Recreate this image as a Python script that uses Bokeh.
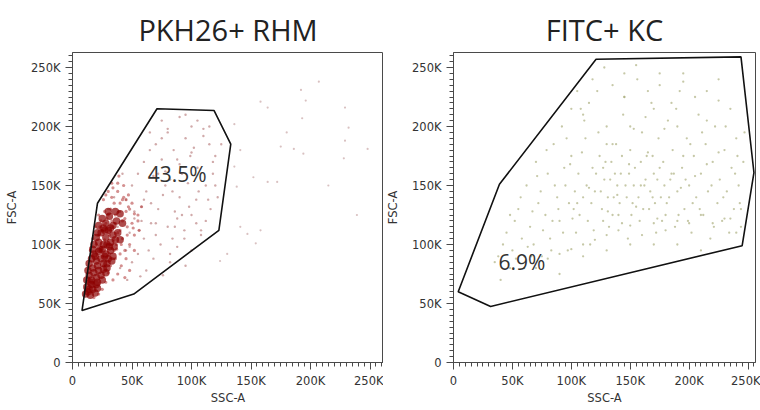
from bokeh.plotting import figure
from bokeh.layouts import row
from bokeh.models import FixedTicker, Range1d, Label
from bokeh.embed import file_html
from bokeh.resources import INLINE

# ---------------- data (values in thousands) ----------------
titles = ["PKH26+ RHM", "FITC+ KC"]
axis_titles = ["SSC-A", "FSC-A"]
gate_pct = ["43.5%", "6.9%"]
tick_vals = [0, 50, 100, 150, 200, 250]
tick_labels = ["0", "50K", "100K", "150K", "200K", "250K"]
minor_vals = list(range(0, 270, 5))

# left gate polygon (SSC-A, FSC-A)
gate1_x = [8, 21, 71, 119, 133, 123, 51.5]
gate1_y = [44, 135, 215, 213.5, 185, 112, 58]
label1_xy = (88, 160)

# right gate polygon
gate2_x = [4, 31.5, 245, 255, 244, 121, 39]
gate2_y = [60, 47.5, 99, 161, 259, 257, 151]
label2_xy = (58, 85)

# left panel: dense core events
core_x = [11,13,15,17,19,21,12,16,20,14,
          12,14,16,18,20,22,24,26,28,13,17,21,25,29,15,
          14,16,18,20,22,24,26,28,30,32,34,17,21,25,29,33,19,27,
          18,20,22,24,26,28,30,32,34,36,38,23,27,31,35,40,21,29,
          22,25,28,31,34,37,40,26,32,36,30,42]
core_y = [58,60,57,62,59,63,64,66,66,62,
          70,74,70,76,72,78,74,79,76,78,80,68,70,80,68,
          84,88,92,86,94,88,84,92,88,95,90,96,82,96,84,86,90,90,
          100,106,102,110,100,106,112,102,108,104,110,96,112,98,98,104,110,100,
          116,122,118,124,116,120,126,114,114,128,128,118]

# left panel: medium-density events
mid_x = [20,22,25,28,30,32,35,27,24,33,38,40,36,42,45,38,42,46,50,48,44,40,36,32,30,34,38,28,25,22,18,26,29,31,34,37,35,41,45,52,55,50,47,43,30,26,22,19,17,15,39,33,52,56,48,44,
         24,27,30,33,36,39,42,21,26,31,35,40,44,48,28,34,38,43,47,52,23,29,37,41,46,51,55,58,32,45]
mid_y = [100,108,112,118,125,130,135,128,120,140,145,135,125,120,128,110,105,115,118,100,95,92,88,82,76,70,75,68,62,58,55,90,100,108,115,100,95,82,88,108,125,135,142,150,145,138,125,115,105,95,158,152,95,112,78,72,
         96,104,110,120,118,128,138,90,82,92,104,112,122,130,142,148,152,140,132,126,115,122,96,100,108,114,120,132,112,138]

# left panel: sparse events inside the gate
sparse_x = [75,90,105,115,80,95,110,125,70,85,100,120,60,75,90,105,118,55,68,82,97,112,122,50,62,76,90,104,116,45,58,72,86,100,112,40,52,66,80,94,108,48,60,74,88,100,55,68,82,95,62,76,45,38,35,42,30,65,100,115,78,92,58,70,84,50,40,46,57,
            65,80,95,110,72,88,102,118,60,78,92,106,52,66,84,98,56,70,88,104,64,94,108,48,82,114,120,75,99,86]
sparse_y = [205,208,205,200,195,190,192,185,185,180,178,175,170,172,168,165,160,160,158,155,152,150,140,150,145,142,140,138,130,138,132,130,128,125,120,128,122,118,115,112,108,110,105,100,98,95,92,88,85,82,78,74,95,115,140,160,130,195,200,185,162,125,120,108,105,85,80,70,73,
            180,198,210,198,160,172,182,170,138,150,160,145,128,135,145,132,112,118,122,118,95,105,112,98,92,138,150,190,175,115]

# left panel: events outside the gate
out_x = [158,164,192,196,207,193,229,232,229,228,248,239,175,186,194,152,164,172,147,154,141,158,136,138,136,141,124,130,215,180]
out_y = [221,216,231,222,238,207,216,199,188,173,181,125,183,181,177,157,153,153,109,101,115,112,166,149,202,180,86,92,150,195]

# right panel events
kc_x = [40,45,50,55,60,62,65,68,70,72,75,78,80,82,85,88,90,92,95,97,100,102,104,106,108,110,112,114,116,118,120,122,124,126,128,130,132,134,136,138,140,142,144,146,148,150,152,154,156,158,160,162,164,166,168,170,172,174,176,178,180,182,184,186,188,190,192,194,196,198,200,202,204,206,208,210,212,214,216,218,220,222,224,226,228,230,232,234,236,238,240,242,244,246,235,225,215,195,175,145,58,66,74,84,94,98,103,107,113,117,121,125,127,129,131,133,135,137,139,141,143,147,149,151,153,157,159,161,163,167,169,171,173,177,179,183,187,191,197,203,38,48,52,90,110,130,150,170,190,210,
        35,42,48,53,57,63,67,71,76,79,83,86,89,93,96,99,101,105,109,111,115,119,123,127,131,135,139,143,145,149,153,155,159,163,165,169,173,175,179,181,185,189,193,195,199,201,205,209,211,215,219,221,225,229,231,235,239,241,243,247,
        60,70,80,90,100,110,120,130,140,150,160,170,180,190,200,210,220,230,240,244,
        105,100,118,115,128,135,145,155,165,175,185,195,205,215,225,110,130,150,170,190]
kc_y = [70,110,95,130,80,150,115,100,170,135,90,125,160,105,185,140,120,200,150,95,175,130,110,160,215,140,190,120,100,165,145,230,175,130,155,200,115,170,140,185,125,160,210,150,105,180,135,165,240,120,195,150,175,130,220,160,110,190,140,170,125,205,155,180,115,145,230,165,130,190,150,110,175,140,210,160,125,185,145,105,170,200,135,155,120,180,145,110,165,130,190,150,115,170,215,240,230,245,235,245,105,90,145,120,165,135,145,125,150,135,160,145,120,170,140,155,125,160,150,135,175,140,160,125,150,140,170,130,155,145,175,135,155,120,150,140,160,125,155,135,90,80,120,75,90,95,100,100,100,95,
        85,100,125,88,140,98,128,158,112,180,95,150,130,110,190,168,122,135,178,205,148,112,195,165,128,185,142,118,225,168,198,132,150,208,178,140,122,165,198,135,160,215,148,175,120,185,158,130,195,168,150,115,178,140,200,122,160,175,135,195,
        90,80,88,92,96,100,104,108,112,116,108,118,112,120,118,125,118,122,110,130,
        230,215,240,220,250,235,225,252,230,245,220,238,225,205,222,210,185,200,215,200]

# ---------------- styling helpers ----------------
AX = "#4a4a4a"
TXT = "#333333"
FIG_H = 410
TOP, BOTTOM = 52, 48
FRAME_H = FIG_H - TOP - BOTTOM
PX_PER_K_Y = 59.0 / 50


def style(p):
    p.xaxis.ticker = FixedTicker(ticks=tick_vals, minor_ticks=minor_vals)
    p.yaxis.ticker = FixedTicker(ticks=tick_vals, minor_ticks=minor_vals)
    for ax in (p.xaxis[0], p.yaxis[0]):
        ax.major_label_overrides = {v: s for v, s in zip(tick_vals, tick_labels)}
        ax.axis_line_color = AX
        ax.major_tick_line_color = AX
        ax.minor_tick_line_color = AX
        ax.major_tick_out = 7
        ax.major_tick_in = 0
        ax.minor_tick_out = 4
        ax.minor_tick_in = 0
        ax.major_label_text_font = "DejaVu Sans"
        ax.major_label_text_font_size = "11.5px"
        ax.major_label_text_color = TXT
        ax.axis_label_text_font = "DejaVu Sans"
        ax.axis_label_text_font_size = "11.5px"
        ax.axis_label_text_font_style = "normal"
        ax.axis_label_text_color = TXT
    p.xaxis.axis_label = axis_titles[0]
    p.yaxis.axis_label = axis_titles[1]
    p.xaxis.major_label_standoff = 4
    p.xaxis.axis_label_standoff = 0
    p.yaxis.major_label_standoff = 5
    p.yaxis.axis_label_standoff = 9
    p.xgrid.visible = False
    p.ygrid.visible = False
    p.outline_line_color = AX
    p.outline_line_width = 1
    p.title.text_font = "Open Sans"
    p.title.text_font_size = "29px"
    p.title.text_font_style = "normal"
    p.title.text_color = "#222222"
    p.title.align = "center"
    p.title.standoff = 8


def make(title, width, border_left, border_right, px_per_k_x):
    xmax = (width - border_left - border_right) / px_per_k_x
    ymax = FRAME_H / PX_PER_K_Y
    p = figure(width=width, height=FIG_H, output_backend="svg", toolbar_location=None,
               x_range=Range1d(0, xmax), y_range=Range1d(0, ymax), title=title,
               min_border_left=border_left, min_border_right=border_right,
               min_border_top=TOP, min_border_bottom=BOTTOM)
    style(p)
    return p


p1 = make(titles[0], 383, 72, 0, 59.5 / 50)
p1.scatter(out_x, out_y, size=2.2, color="#c9a6a6", alpha=0.7, line_alpha=0)
p1.scatter(sparse_x, sparse_y, size=2.4, color="#b37272", alpha=0.6, line_alpha=0)
p1.scatter(mid_x, mid_y, size=3.2, color="#b03434", alpha=0.55, line_alpha=0)
p1.scatter(core_x, core_y, size=7.5, color="#8b0000", alpha=0.7, line_alpha=0)
p1.patch(gate1_x, gate1_y, fill_alpha=0, line_color="#111111", line_width=1.6)
p1.add_layout(Label(x=label1_xy[0], y=label1_xy[1], text=gate_pct[0], text_align="center",
                    text_baseline="middle", text_font="Open Sans", text_font_size="21px",
                    text_color="#333333"))

p2 = make(titles[1], 377, 68, 5, 59.3 / 50)
p2.scatter(kc_x, kc_y, size=2.3, color="#a8aa78", alpha=0.65, line_alpha=0)
p2.patch(gate2_x, gate2_y, fill_alpha=0, line_color="#111111", line_width=1.6)
p2.add_layout(Label(x=label2_xy[0], y=label2_xy[1], text=gate_pct[1], text_align="center",
                    text_baseline="middle", text_font="Open Sans", text_font_size="21px",
                    text_color="#333333"))

layout = row(p1, p2, spacing=0)
open("out.html", "w").write(file_html(layout, INLINE))
